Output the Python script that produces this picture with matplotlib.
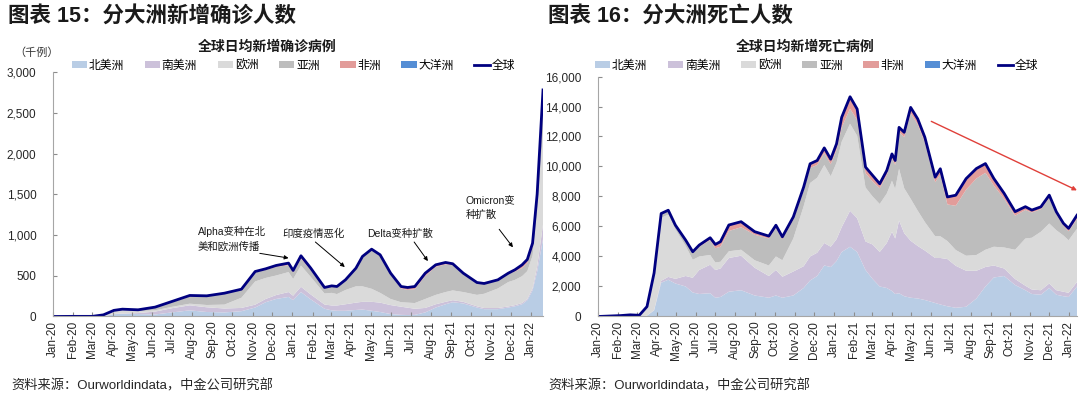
import numpy as np
import pandas as pd
import matplotlib
matplotlib.use('Agg')
import matplotlib.pyplot as plt
import matplotlib.dates as mdates
from matplotlib.patches import Patch
from matplotlib.lines import Line2D
from matplotlib.ticker import FuncFormatter

plt.rcParams['font.family'] = ['Liberation Sans', 'Noto Sans CJK SC', 'DejaVu Sans']

continents = ['北美洲', '南美洲', '欧洲', '亚洲', '非洲', '大洋洲']
colors = ['#b9cde5', '#ccc1da', '#dadada', '#bdbdbd', '#e29c9a', '#558ed5']
line_color = '#000080'

# daily new cases, thousand (7-day average)
case_dates = ['2020-01-01', '2020-01-31', '2020-03-01', '2020-03-18', '2020-04-03', '2020-04-16',
              '2020-05-10', '2020-06-05', '2020-07-01', '2020-07-28', '2020-08-23', '2020-09-19',
              '2020-10-15', '2020-11-05', '2020-11-21', '2020-12-07', '2020-12-26', '2021-01-02',
              '2021-01-14', '2021-01-29', '2021-02-19', '2021-03-02', '2021-03-10', '2021-03-23',
              '2021-04-08', '2021-04-18', '2021-05-02', '2021-05-15', '2021-05-31', '2021-06-16',
              '2021-06-26', '2021-07-07', '2021-07-23', '2021-08-08', '2021-08-23', '2021-09-03',
              '2021-09-19', '2021-10-10', '2021-10-21', '2021-11-11', '2021-11-27', '2021-12-07',
              '2021-12-18', '2021-12-26', '2022-01-03', '2022-01-10', '2022-01-19']
cases_na = [0, 0, 0, 3, 28, 33, 30, 25, 50, 75, 55, 50, 65, 110, 175, 215, 240, 200, 300, 210, 95, 75, 70, 70,
            80, 85, 70, 55, 30, 20, 18, 20, 50, 110, 150, 175, 160, 110, 90, 90, 110, 125, 150, 200, 320, 550, 950]
cases_sa = [0, 0, 0, 0.5, 2, 4, 12, 35, 52, 62, 58, 48, 40, 35, 40, 48, 60, 55, 65, 60, 52, 60, 65, 80,
            90, 95, 110, 115, 110, 100, 90, 75, 55, 40, 30, 25, 20, 15, 14, 14, 13, 14, 15, 17, 25, 60, 180]
cases_eu = [0, 0, 0.5, 12, 38, 40, 24, 16, 17, 20, 28, 48, 125, 285, 258, 240, 245, 205, 260, 215, 135, 155, 140, 175,
            200, 190, 160, 120, 75, 55, 62, 70, 110, 115, 120, 120, 120, 140, 175, 240, 300, 310, 330, 340, 400, 650, 1130]
cases_as = [0, 1.5, 1, 4, 6, 11, 14, 34, 56, 86, 102, 132, 97, 110, 98, 105, 85, 80, 85, 85, 62, 76, 83, 115,
            211, 355, 472, 453, 300, 170, 156, 170, 282, 343, 340, 310, 222, 145, 120, 100, 100, 102, 100, 100, 105, 160, 380]
cases_af = [0, 0, 0, 0.2, 0.8, 1.5, 2, 5, 10, 15, 10, 8, 8, 12, 14, 18, 25, 25, 35, 23, 12, 10, 10, 10,
            12, 12, 14, 14, 17, 23, 30, 33, 35, 26, 22, 16, 9, 6, 5, 5, 8, 20, 35, 35, 35, 30, 30]
cases_oc = [0, 0, 0, 0.3, 0.3, 0.3, 0, 0, 0, 0, 0.5, 0, 0, 0, 0, 0, 0, 0, 0, 0, 0, 0, 0, 0,
            0, 0, 0, 0, 0, 0, 0, 0, 0, 0, 1, 1, 1, 1, 1, 1, 1, 2, 4, 8, 15, 50, 110]

# daily new deaths (7-day average)
death_dates = ['2020-01-01', '2020-02-05', '2020-02-20', '2020-03-05', '2020-03-17', '2020-03-28',
               '2020-04-08', '2020-04-19', '2020-04-30', '2020-05-16', '2020-05-27', '2020-06-06',
               '2020-06-23', '2020-07-01', '2020-07-09', '2020-07-22', '2020-08-10', '2020-08-31',
               '2020-09-22', '2020-10-03', '2020-10-13', '2020-10-30', '2020-11-15', '2020-11-25',
               '2020-12-06', '2020-12-17', '2020-12-27', '2021-01-05', '2021-01-13', '2021-01-26',
               '2021-02-06', '2021-02-19', '2021-03-02', '2021-03-13', '2021-03-24', '2021-04-01',
               '2021-04-06', '2021-04-12', '2021-04-20', '2021-04-30', '2021-05-11', '2021-05-22',
               '2021-06-07', '2021-06-15', '2021-06-26', '2021-07-09', '2021-07-25', '2021-08-10',
               '2021-08-24', '2021-09-06', '2021-09-22', '2021-10-09', '2021-10-25', '2021-11-04',
               '2021-11-18', '2021-12-01', '2021-12-12', '2021-12-23', '2021-12-31', '2022-01-13']
deaths_na = [0, 0, 0, 0, 60, 400, 2250, 2450, 2200, 2000, 1600, 1500, 1550, 1250, 1300, 1650, 1750, 1400,
             1250, 1400, 1250, 1400, 1900, 2400, 2700, 3400, 3300, 3700, 4300, 4650, 4300, 3100, 2500, 2000,
             1900, 1700, 1500, 1550, 1350, 1250, 1200, 1100, 900, 800, 680, 580, 650, 1200, 2000, 2600,
             2700, 2100, 1750, 1500, 1450, 1900, 1450, 1350, 1300, 2000]
deaths_sa = [0, 0, 0, 0, 0, 30, 130, 190, 310, 700, 980, 1600, 1900, 1850, 1900, 2250, 2300, 1850,
             1450, 1700, 1400, 1600, 1450, 1600, 1550, 1500, 1350, 1450, 1650, 2400, 2250, 1900, 2300, 2300,
             3000, 3950, 3700, 4850, 4200, 3800, 3500, 3300, 3000, 3100, 3150, 2800, 2400, 1850, 1300, 800,
             500, 400, 300, 300, 300, 300, 300, 300, 280, 300]
deaths_eu = [0, 0, 0, 20, 550, 2300, 4200, 4150, 3300, 2000, 1200, 900, 650, 500, 450, 450, 400, 500,
             700, 900, 1100, 2200, 4000, 4900, 5000, 5200, 4700, 5100, 5700, 5800, 5500, 3600, 3200, 3200,
             3300, 3400, 3300, 3450, 3000, 2800, 2350, 1900, 1450, 1450, 1200, 1050, 1000, 1050, 1150, 1250,
             1400, 1950, 3150, 3450, 3900, 4000, 4000, 3750, 3500, 3550]
deaths_as = [0, 60, 110, 60, 50, 150, 220, 230, 230, 320, 450, 650, 1000, 950, 1000, 1350, 1500, 1700,
             1800, 1900, 1400, 1250, 1050, 1000, 850, 800, 800, 850, 950, 1000, 1050, 950, 1000, 1050,
             1240, 1500, 1600, 2450, 3400, 5700, 5750, 5300, 3600, 4100, 2440, 2950, 4400, 5100, 5130, 4080,
             3240, 2270, 1900, 1680, 1500, 1700, 1050, 650, 600, 650]
deaths_af = [0, 0, 0, 0, 0, 20, 60, 60, 50, 70, 85, 110, 150, 250, 330, 380, 350, 190,
             155, 185, 160, 190, 230, 280, 300, 340, 340, 410, 680, 800, 730, 410, 405, 300,
             300, 290, 300, 310, 330, 390, 370, 350, 340, 400, 500, 700, 730, 650, 600, 450,
             350, 250, 200, 150, 150, 180, 170, 150, 185, 200]
deaths_oc = [0, 0, 0, 0, 0, 0, 5, 5, 3, 1, 0, 0, 0, 5, 10, 20, 20, 15,
             5, 0, 0, 0, 0, 0, 0, 0, 0, 0, 0, 0, 0, 0, 0, 0,
             0, 0, 0, 0, 0, 0, 0, 0, 0, 0, 0, 5, 10, 15, 15, 20,
             20, 20, 20, 15, 10, 10, 10, 10, 10, 50]

x_labels_fmt = '%b-%y'

fig = plt.figure(figsize=(10.8, 3.97), dpi=100)


def draw_panel(ax, dates, series, ymax, ystep, end_date):
    d = pd.to_datetime(dates)
    ax.stackplot(d, *series, colors=colors, linewidth=0)
    total = np.sum(np.array(series, dtype=float), axis=0)
    ax.plot(d, total, color=line_color, lw=2, solid_joinstyle='round')
    ax.set_xlim(pd.Timestamp('2020-01-01'), pd.Timestamp(end_date))
    ax.set_ylim(0, ymax)
    ax.set_yticks(np.arange(0, ymax + 1, ystep))
    ax.yaxis.set_major_formatter(FuncFormatter(lambda v, p: f'{int(v):,}'))
    ax.xaxis.set_major_locator(mdates.MonthLocator())
    ax.xaxis.set_major_formatter(mdates.DateFormatter(x_labels_fmt))
    ax.tick_params(axis='x', rotation=90, labelsize=8.5, direction='in', length=3,
                   color='#8c8c8c', pad=3, labelcolor='#262626')
    ax.tick_params(axis='y', labelsize=8.5, direction='in', length=3,
                   color='#8c8c8c', pad=12, labelcolor='#262626')
    for s in ['top', 'right']:
        ax.spines[s].set_visible(False)
    for s in ['left', 'bottom']:
        ax.spines[s].set_color('#a6a6a6')
        ax.spines[s].set_linewidth(0.8)
    return ax


def add_legend(cx):
    handles = [Patch(facecolor=c, edgecolor='none') for c in colors]
    handles.append(Line2D([0], [0], color=line_color, lw=2))
    fig.legend(handles, continents + ['全球'], loc='center', bbox_to_anchor=(cx, 0.834),
               ncol=7, frameon=False, fontsize=8.5, handlelength=1.3, handleheight=0.55,
               handletextpad=0.15, columnspacing=1.75)


# left panel: cases
ax1 = fig.add_axes([0.0491, 0.2028, 0.4537, 0.6158])
draw_panel(ax1, case_dates, [cases_na, cases_sa, cases_eu, cases_as, cases_af, cases_oc],
           3000, 500, '2022-01-19')
add_legend(0.2716)

arrow_kw = dict(arrowstyle='-|>', color='black', lw=0.7, mutation_scale=6, shrinkA=0, shrinkB=0)
ax1.text(pd.Timestamp('2020-08-09'), 955, 'Alpha变种在北\n美和欧洲传播', fontsize=7.5,
         ha='left', va='center', linespacing=1.5, color='#1a1a1a')
ax1.annotate('', xy=(pd.Timestamp('2020-12-26'), 717), xytext=(pd.Timestamp('2020-11-12'), 775),
             arrowprops=arrow_kw)
ax1.text(pd.Timestamp('2020-12-17'), 1009, '印度疫情恶化', fontsize=7.5, ha='left', va='center',
         color='#1a1a1a')
ax1.annotate('', xy=(pd.Timestamp('2021-03-22'), 607), xytext=(pd.Timestamp('2021-02-05'), 914),
             arrowprops=arrow_kw)
ax1.text(pd.Timestamp('2021-04-25'), 1009, 'Delta变种扩散', fontsize=7.5, ha='left', va='center',
         color='#1a1a1a')
ax1.annotate('', xy=(pd.Timestamp('2021-07-27'), 680), xytext=(pd.Timestamp('2021-07-06'), 914),
             arrowprops=arrow_kw)
ax1.text(pd.Timestamp('2021-09-23'), 1330, 'Omicron变\n种扩散', fontsize=7.5, ha='left', va='center',
         linespacing=1.5, color='#1a1a1a')
ax1.annotate('', xy=(pd.Timestamp('2021-12-04'), 849), xytext=(pd.Timestamp('2021-11-13'), 1070),
             arrowprops=arrow_kw)

# right panel: deaths
ax2 = fig.add_axes([0.5537, 0.2028, 0.4435, 0.6045])
draw_panel(ax2, death_dates, [deaths_na, deaths_sa, deaths_eu, deaths_as, deaths_af, deaths_oc],
           16000, 2000, '2022-01-13')
add_legend(0.756)
ax2.annotate('', xy=(pd.Timestamp('2022-01-13'), 8410), xytext=(pd.Timestamp('2021-06-01'), 13010),
             arrowprops=dict(arrowstyle='-|>', color='#e0403a', lw=1, mutation_scale=6,
                             shrinkA=0, shrinkB=0), annotation_clip=False)

# titles and notes
fig.text(8 / 1080, 1 - 16 / 397, '图表 15：分大洲新增确诊人数', fontsize=15.5, fontweight='bold',
         ha='left', va='center', color='#1a1a1a')
fig.text(548 / 1080, 1 - 16 / 397, '图表 16：分大洲死亡人数', fontsize=15.5, fontweight='bold',
         ha='left', va='center', color='#1a1a1a')
fig.text(267 / 1080, 1 - 47 / 397, '全球日均新增确诊病例', fontsize=10, fontweight='bold',
         ha='center', va='center', color='#1a1a1a')
fig.text(805 / 1080, 1 - 47 / 397, '全球日均新增死亡病例', fontsize=10, fontweight='bold',
         ha='center', va='center', color='#1a1a1a')
fig.text(37 / 1080, 1 - 53 / 397, '（千例）', fontsize=8, ha='center', va='center', color='#333333')
fig.text(11 / 1080, 1 - 386 / 397, '资料来源：Ourworldindata，中金公司研究部', fontsize=9.5,
         ha='left', va='center', color='#262626')
fig.text(548 / 1080, 1 - 386 / 397, '资料来源：Ourworldindata，中金公司研究部', fontsize=9.5,
         ha='left', va='center', color='#262626')

fig.savefig('out.png', dpi=100)
